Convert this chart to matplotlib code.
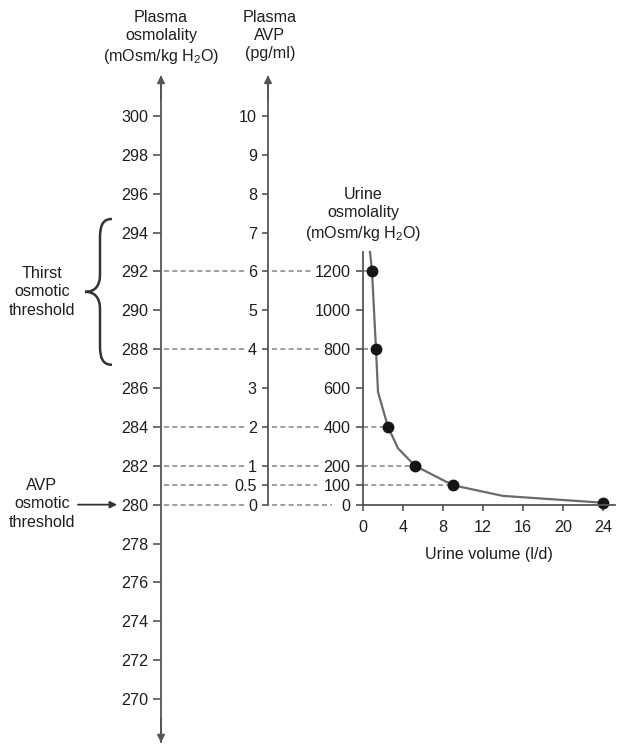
import matplotlib.pyplot as plt
from matplotlib.path import Path
from matplotlib.patches import PathPatch

plt.rcParams['font.family'] = ['Liberation Sans', 'DejaVu Sans']
plt.rcParams['mathtext.fontset'] = 'custom'
plt.rcParams['mathtext.rm'] = 'Liberation Sans'
plt.rcParams['mathtext.it'] = 'Liberation Sans:italic'

# values
osm_ticks = list(range(270, 301, 2))
avp_ticks = [0, 0.5, 1, 2, 3, 4, 5, 6, 7, 8, 9, 10]
urine_ticks = [0, 100, 200, 400, 600, 800, 1000, 1200]
volume_ticks = [0, 4, 8, 12, 16, 20, 24]

link_osm = [292, 288, 284, 282, 281, 280]
link_avp = [6, 4, 2, 1, 0.5, 0]
link_urine = [1200, 800, 400, 200, 100, 0]

point_volume = [0.9, 1.3, 2.5, 5.2, 9.0, 24.0]
point_urine = [1200, 800, 400, 200, 100, 10]
curve_volume = [0.7, 0.9, 1.3, 1.5, 2.5, 3.5, 5.2, 9.0, 14.0, 24.0]
curve_urine = [1300, 1200, 800, 580, 400, 290, 200, 100, 45, 10]

AXIS_C = '#555555'
TEXT_C = '#1e1e1e'
DASH_C = '#8c8c8c'
FS = 11.6
LS = 1.28

# avp and urine scales hung on the plasma osmolality scale
def avp_to_osm(v):
    return 280 + 2 * v

def urine_to_osm(u):
    return 280 + u / 100

fig = plt.figure(figsize=(6.17, 7.44), dpi=100)
ax = fig.add_axes([0, 0, 1, 1])
ax.patch.set_alpha(0)
ax.set_xlim(0, 617)
ax.set_ylim(267.684, 305.969)
ax.xaxis.set_visible(False)
for s in ['top', 'right', 'bottom']:
    ax.spines[s].set_visible(False)

X_OSM, X_AVP, X_URINE = 161, 268, 363

# plasma osmolality axis
ax.spines['left'].set_position(('data', X_OSM))
ax.spines['left'].set_bounds(267.8, 302.0)
ax.spines['left'].set_color(AXIS_C)
ax.spines['left'].set_linewidth(1.3)
ax.set_yticks(osm_ticks)
ax.tick_params(axis='y', direction='out', length=5.5, width=1.2, color=AXIS_C,
               pad=3.5, labelsize=FS, labelcolor=TEXT_C)
arrow = dict(arrowstyle='-|>', color=AXIS_C, lw=1.3, mutation_scale=11,
             shrinkA=0, shrinkB=0)
ax.annotate('', xy=(X_OSM, 302.1), xytext=(X_OSM, 300.8), arrowprops=arrow)
ax.annotate('', xy=(X_OSM, 267.75), xytext=(X_OSM, 269.0), arrowprops=arrow)

# plasma AVP axis
ax2 = ax.twinx()
ax2.patch.set_alpha(0)
ax2.set_ylim(ax.get_ylim())
for s in ['top', 'right', 'bottom']:
    ax2.spines[s].set_visible(False)
ax2.yaxis.tick_left()
ax2.spines['left'].set_visible(True)
ax2.spines['left'].set_position(('data', X_AVP))
ax2.spines['left'].set_bounds(280, 302.0)
ax2.spines['left'].set_color(AXIS_C)
ax2.spines['left'].set_linewidth(1.3)
ax2.set_yticks([avp_to_osm(v) for v in avp_ticks])
ax2.set_yticklabels([f'{v:g}' for v in avp_ticks])
ax2.tick_params(axis='y', direction='out', length=4, width=1.2, color=AXIS_C,
                pad=4, labelsize=FS, labelcolor=TEXT_C)
ax2.annotate('', xy=(X_AVP, 302.1), xytext=(X_AVP, 300.8), arrowprops=arrow)

# dashed links between the scales
seg1_end = [245, 245, 245, 245, 229, 245]
seg2_end = [311, 320, 320, 320, 317, 332]
for o, e1, e2 in zip(link_osm, seg1_end, seg2_end):
    ax2.plot([X_OSM + 3, e1], [o, o], color=DASH_C, lw=1.2, ls=(0, (3, 2)))
    ax2.plot([X_AVP + 4, e2], [o, o], color=DASH_C, lw=1.2, ls=(0, (3, 2)))

# urine osmolality vs urine volume
ax_u = ax2.inset_axes([X_URINE, 280, 252, urine_to_osm(1300) - 280],
                      transform=ax2.transData)
ax_u.patch.set_alpha(0)
ax_u.set_xlim(0, 25.2)
ax_u.set_ylim(0, 1300)
for s in ['top', 'right']:
    ax_u.spines[s].set_visible(False)
for s in ['left', 'bottom']:
    ax_u.spines[s].set_color(AXIS_C)
    ax_u.spines[s].set_linewidth(1.3)
ax_u.set_yticks(urine_ticks)
ax_u.set_xticks(volume_ticks)
ax_u.tick_params(axis='y', direction='out', length=5, width=1.2, color=AXIS_C,
                 pad=4, labelsize=FS, labelcolor=TEXT_C)
ax_u.tick_params(axis='x', direction='out', length=4, width=1.2, color=AXIS_C,
                 pad=7, labelsize=FS, labelcolor=TEXT_C)
ax_u.set_xlabel('Urine volume (l/d)', fontsize=FS, color=TEXT_C, labelpad=9)
for v, u in zip(point_volume[:-1], point_urine[:-1]):
    ax_u.plot([0, v], [u, u], color=DASH_C, lw=1.2, ls=(0, (3, 2)))
ax_u.plot(curve_volume, curve_urine, color='#6a6a6a', lw=1.6, clip_on=False)
ax_u.plot(point_volume, point_urine, 'o', color='#151515', ms=7.5, clip_on=False)
ax_u.text(0, 1.035, 'Urine\nosmolality\n(mOsm/kg H$_2$O)', transform=ax_u.transAxes,
          ha='center', va='bottom', fontsize=FS, color=TEXT_C, linespacing=LS)

# axis titles
ax2.text(X_OSM, 305.48, 'Plasma\nosmolality\n(mOsm/kg H$_2$O)', ha='center', va='top',
         fontsize=FS, color=TEXT_C, linespacing=LS)
ax2.text(X_AVP + 2, 305.48, 'Plasma\nAVP\n(pg/ml)', ha='center', va='top',
         fontsize=FS, color=TEXT_C, linespacing=LS)

# thirst threshold brace
top, bot, mid = 294.7, 287.2, 290.95
verts = [(112, top), (103, top), (100, top - 0.3), (100, top - 1.0),
         (100, mid + 0.9),
         (100, mid + 0.3), (95, mid), (85, mid),
         (95, mid), (100, mid - 0.3), (100, mid - 0.9),
         (100, bot + 1.0),
         (100, bot + 0.3), (103, bot), (112, bot)]
codes = [Path.MOVETO, Path.CURVE4, Path.CURVE4, Path.CURVE4,
         Path.LINETO,
         Path.CURVE4, Path.CURVE4, Path.CURVE4,
         Path.CURVE4, Path.CURVE4, Path.CURVE4,
         Path.LINETO,
         Path.CURVE4, Path.CURVE4, Path.CURVE4]
ax2.add_patch(PathPatch(Path(verts, codes), facecolor='none', edgecolor='#333333', lw=1.8))
ax2.text(42, mid, 'Thirst\nosmotic\nthreshold', ha='center', va='center',
         fontsize=FS, color=TEXT_C, linespacing=LS)

# AVP threshold arrow
ax2.text(42, 280.05, 'AVP\nosmotic\nthreshold', ha='center', va='center',
         fontsize=FS, color=TEXT_C, linespacing=LS)
ax2.annotate('', xy=(117, 280), xytext=(78, 280),
             arrowprops=dict(arrowstyle='-|>', color='#333333', lw=1.3,
                             mutation_scale=10, shrinkA=0, shrinkB=0))

fig.savefig('out.png', dpi=100)
